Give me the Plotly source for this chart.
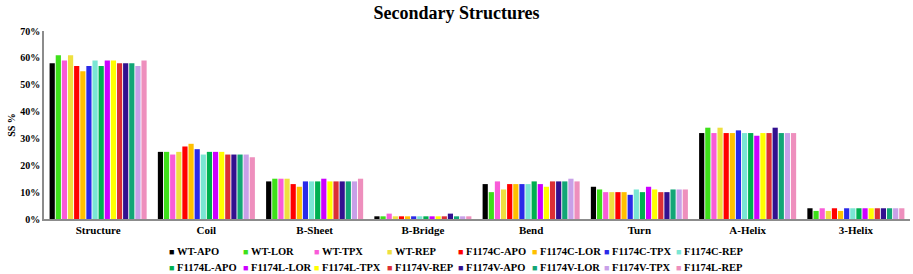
import plotly.graph_objects as go

categories = ["Structure", "Coil", "B-Sheet", "B-Bridge", "Bend", "Turn", "A-Helix", "3-Helix"]

series_names = ["WT-APO", "WT-LOR", "WT-TPX", "WT-REP",
                "F1174C-APO", "F1174C-LOR", "F1174C-TPX", "F1174C-REP",
                "F1174L-APO", "F1174L-LOR", "F1174L-TPX", "F1174V-REP",
                "F1174V-APO", "F1174V-LOR", "F1174V-TPX", "F1174L-REP"]

wt_apo      = [58, 25, 14, 1, 13, 12, 32, 4]
wt_lor      = [61, 25, 15, 1, 10, 11, 34, 3]
wt_tpx      = [59, 24, 15, 2, 14, 10, 32, 4]
wt_rep      = [61, 25, 15, 1, 11, 10, 34, 3]
f1174c_apo  = [57, 27, 13, 1, 13, 10, 32, 4]
f1174c_lor  = [55, 28, 12, 1, 13, 10, 32, 3]
f1174c_tpx  = [57, 26, 14, 1, 13, 9, 33, 4]
f1174c_rep  = [59, 24, 14, 1, 13, 11, 32, 4]
f1174l_apo  = [57, 25, 14, 1, 14, 10, 32, 4]
f1174l_lor  = [59, 25, 15, 1, 13, 12, 31, 4]
f1174l_tpx  = [59, 25, 14, 1, 12, 11, 32, 4]
f1174v_rep  = [58, 24, 14, 1, 14, 10, 32, 4]
f1174v_apo  = [58, 24, 14, 2, 14, 10, 34, 4]
f1174v_lor  = [58, 24, 14, 1, 14, 11, 32, 4]
f1174v_tpx  = [57, 24, 14, 1, 15, 11, 32, 4]
f1174l_rep  = [59, 23, 15, 1, 14, 11, 32, 4]

series_values = [wt_apo, wt_lor, wt_tpx, wt_rep,
                 f1174c_apo, f1174c_lor, f1174c_tpx, f1174c_rep,
                 f1174l_apo, f1174l_lor, f1174l_tpx, f1174v_rep,
                 f1174v_apo, f1174v_lor, f1174v_tpx, f1174l_rep]

colors = ["#000000", "#3ee01a", "#f95bd8", "#eee040",
          "#ff0000", "#ffc000", "#2a2ae8", "#7ae6d4",
          "#00b050", "#cc00ff", "#ffff00", "#dc2f35",
          "#33108f", "#12a676", "#c8a0e8", "#ee8fbd"]

y_ticks = [0, 10, 20, 30, 40, 50, 60, 70]

FONT = "Liberation Serif, Times New Roman, serif"
W, H = 913, 274

fig = go.Figure()
for name, vals, col in zip(series_names, series_values, colors):
    fig.add_trace(go.Bar(
        x=categories, y=[v / 100 for v in vals], name=name,
        marker=dict(color=col, line=dict(width=0)),
        showlegend=False,
    ))

# Legend laid out as a two-row grid (8 columns), like the reference
legend_cols_px = [167, 240.5, 312, 385, 456, 530, 602, 674]
legend_rows_px = [251.5, 267.5]
annotations = []
for i, (name, col) in enumerate(zip(series_names, colors)):
    r, c = divmod(i, 8)
    annotations.append(dict(
        xref="paper", yref="paper", showarrow=False,
        x=(legend_cols_px[c] - 44) / (W - 44 - 3),
        y=(H - 55 - legend_rows_px[r]) / (H - 31 - 55),
        xanchor="left", yanchor="middle",
        text="<span style='font-size:9px;color:%s'>■</span> <b>%s</b>" % (col, name),
        font=dict(family=FONT, size=10.5, color="#000000", weight="bold"),
    ))

fig.update_layout(
    width=W, height=H,
    margin=dict(l=44, r=3, t=31, b=55, autoexpand=False),
    paper_bgcolor="white", plot_bgcolor="white",
    barmode="group", bargap=0.095, bargroupgap=0.15,
    font=dict(family=FONT, color="#000000", weight="bold"),
    title=dict(text="<b>Secondary Structures</b>", x=0.5, xanchor="center",
               xref="container", yref="container", y=1 - 13 / H, yanchor="middle",
               font=dict(family=FONT, size=18, color="#000000", weight="bold")),
    showlegend=False,
    annotations=annotations,
)

fig.update_xaxes(
    showline=True, linecolor="#8c8c8c", linewidth=1.5,
    showgrid=False, ticks="", zeroline=False,
    tickfont=dict(family=FONT, size=11, color="#000000", weight="bold"),
    tickvals=categories, ticktext=["<b>%s</b>" % c for c in categories],
)
fig.update_yaxes(
    range=[0, 0.7], tickvals=[t / 100 for t in y_ticks],
    ticktext=["<b>%d%%</b>" % t for t in y_ticks],
    showline=True, linecolor="#8c8c8c", linewidth=1.5,
    showgrid=False, ticks="", zeroline=False,
    tickfont=dict(family=FONT, size=10, color="#000000", weight="bold"),
    title=dict(text="<b>SS %</b>", font=dict(family=FONT, size=10, color="#000000", weight="bold"), standoff=3),
)

fig.write_html("out.html", config={"displayModeBar": False},
               post_script="document.body.style.margin='0';")
